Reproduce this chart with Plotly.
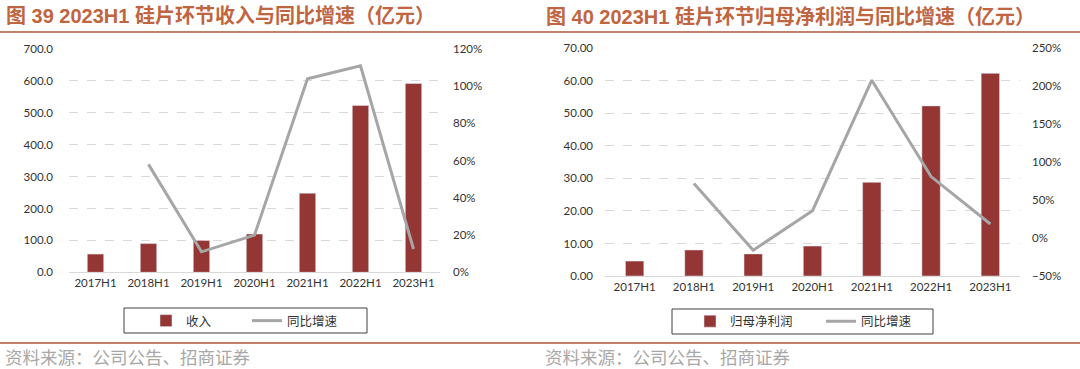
import plotly.graph_objects as go

categories = ["2017H1", "2018H1", "2019H1", "2020H1", "2021H1", "2022H1", "2023H1"]

revenue = [57, 90, 100, 120, 248, 523, 592]
revenue_yoy = [None, 58, 11, 20, 104, 111, 12.5]

profit = [4.6, 8.0, 6.8, 9.2, 28.8, 52.3, 62.3]
profit_yoy = [None, 72, -16, 36, 208, 81, 18.5]

title_left = "图 39 2023H1 硅片环节收入与同比增速（亿元）"
title_right = "图 40 2023H1 硅片环节归母净利润与同比增速（亿元）"
source_text = "资料来源：公司公告、招商证券"

W, H = 1080, 369
def px(x):
    return x / W
def py(y):
    return 1 - y / H

BAR = "#943634"
LINE = "#A6A6A6"
GRID = "#D9D9D9"
ACCENT = "#C0806A"
TXT = "#333333"
FONT = "Lato, 'Noto Sans CJK SC', sans-serif"

fig = go.Figure()

fig.add_trace(go.Bar(x=categories, y=revenue, name="收入", marker_color=BAR,
                     width=0.31, xaxis="x", yaxis="y", legend="legend"))
fig.add_trace(go.Scatter(x=categories, y=revenue_yoy, name="同比增速", mode="lines",
                         line=dict(color=LINE, width=3), xaxis="x", yaxis="y2",
                         legend="legend"))
fig.add_trace(go.Bar(x=categories, y=profit, name="归母净利润", marker_color=BAR,
                     width=0.31, xaxis="x2", yaxis="y3", legend="legend2"))
fig.add_trace(go.Scatter(x=categories, y=profit_yoy, name="同比增速", mode="lines",
                         line=dict(color=LINE, width=3), xaxis="x2", yaxis="y4",
                         legend="legend2"))

tickfont = dict(family=FONT, size=11.5, color=TXT)

xcommon = dict(showgrid=False, showline=True, linecolor=GRID, linewidth=1,
               ticks="", tickfont=tickfont, automargin=False, fixedrange=True)

fig.update_layout(
    width=W, height=H, autosize=False,
    margin=dict(l=0, r=0, t=0, b=0),
    paper_bgcolor="white", plot_bgcolor="white",
    font=dict(family=FONT, color=TXT),
    xaxis=dict(domain=[px(69), px(440)], anchor="y", **xcommon),
    yaxis=dict(domain=[py(272.3), py(49)], range=[0, 700], dtick=100, tickformat=".1f",
               showgrid=True, gridcolor=GRID, griddash="dash", gridwidth=1,
               zeroline=False, showline=False, tickfont=tickfont, ticks="",
               ticklabelstandoff=15, automargin=False, anchor="x"),
    yaxis2=dict(overlaying="y", side="right", anchor="x", range=[0, 120], dtick=20,
                ticksuffix="%", showgrid=False, zeroline=False, showline=False,
                tickfont=tickfont, ticks="", ticklabelstandoff=12, automargin=False),
    xaxis2=dict(domain=[px(605), px(1020)], anchor="y3", **xcommon),
    yaxis3=dict(domain=[py(276), py(48.3)], range=[0, 70], dtick=10, tickformat=".2f",
                showgrid=True, gridcolor=GRID, griddash="dash", gridwidth=1,
                zeroline=False, showline=False, tickfont=tickfont, ticks="",
                ticklabelstandoff=11, automargin=False, anchor="x2"),
    yaxis4=dict(overlaying="y3", side="right", anchor="x2", range=[-50, 250], dtick=50,
                ticksuffix="%", showgrid=False, zeroline=False, showline=False,
                tickfont=tickfont, ticks="", ticklabelstandoff=11, automargin=False),
    legend=dict(orientation="h", x=px(146), y=py(321), xanchor="left", yanchor="middle",
                borderwidth=0, bgcolor="rgba(0,0,0,0)",
                font=dict(family=FONT, size=12.5, color=TXT), entrywidth=56,
                itemwidth=30, traceorder="normal"),
    legend2=dict(orientation="h", x=px(690), y=py(321.5), xanchor="left", yanchor="middle",
                 borderwidth=0, bgcolor="rgba(0,0,0,0)",
                 font=dict(family=FONT, size=12.5, color=TXT), entrywidth=86,
                 itemwidth=30, traceorder="normal"),
    showlegend=True,
)

# legend frames
fig.add_shape(type="rect", xref="paper", yref="paper", x0=px(124), x1=px(367),
              y0=py(333), y1=py(308), line=dict(color="#404040", width=1), layer="below")
fig.add_shape(type="rect", xref="paper", yref="paper", x0=px(672), x1=px(933),
              y0=py(334), y1=py(309), line=dict(color="#404040", width=1), layer="below")

title_font = dict(family="'Liberation Sans', 'Noto Sans CJK SC', sans-serif", size=20,
                  color="#C0653F", weight="bold")
fig.add_annotation(text=title_left, xref="paper", yref="paper", x=px(4), y=py(16),
                   xanchor="left", yanchor="middle", showarrow=False, font=title_font)
fig.add_annotation(text=title_right, xref="paper", yref="paper", x=px(544), y=py(16),
                   xanchor="left", yanchor="middle", showarrow=False, font=title_font)

src_font = dict(family="'Noto Sans CJK SC', sans-serif", size=17.5, color="#A8A8A8")
fig.add_annotation(text=source_text, xref="paper", yref="paper", x=px(3), y=py(356),
                   xanchor="left", yanchor="middle", showarrow=False, font=src_font)
fig.add_annotation(text=source_text, xref="paper", yref="paper", x=px(543), y=py(356),
                   xanchor="left", yanchor="middle", showarrow=False, font=src_font)

for yy in (32, 343):
    fig.add_shape(type="line", xref="paper", yref="paper", x0=0, x1=1, y0=py(yy), y1=py(yy),
                  line=dict(color=ACCENT, width=2))

fig.write_html("out.html", config={"displayModeBar": False},
               post_script="document.body.style.margin='0';")
